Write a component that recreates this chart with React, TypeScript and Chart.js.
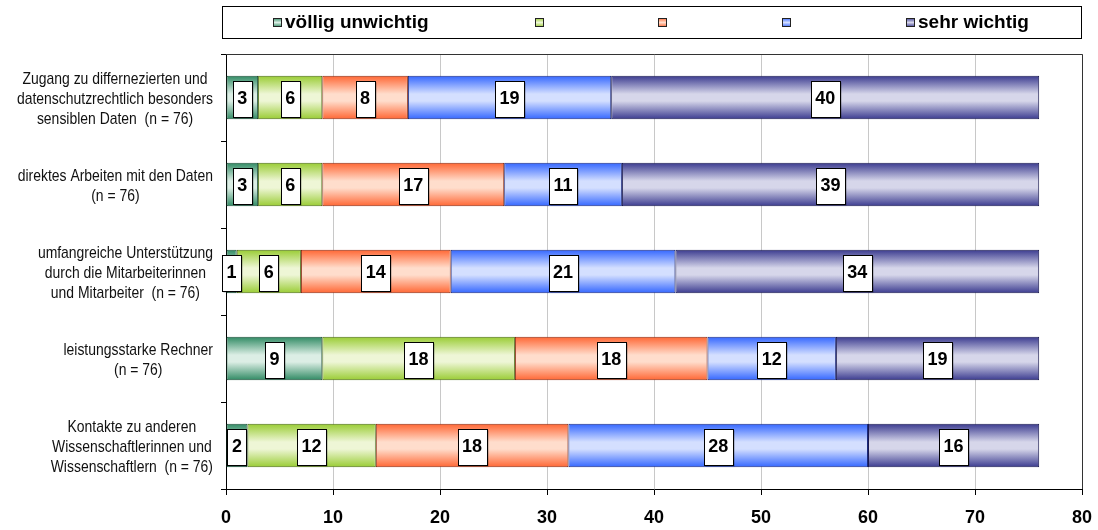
import { useEffect, useRef } from "react";
import { Chart, registerables } from "chart.js";

Chart.register(...registerables);

const categories: string[][] = [
  ["Zugang zu differnezierten und", "datenschutzrechtlich besonders", "sensiblen Daten  (n = 76)"],
  ["direktes Arbeiten mit den Daten", "(n = 76)"],
  ["umfangreiche Unterstützung", "durch die Mitarbeiterinnen", "und Mitarbeiter  (n = 76)"],
  ["leistungsstarke Rechner", "(n = 76)"],
  ["Kontakte zu anderen", "Wissenschaftlerinnen und", "Wissenschaftlern  (n = 76)"],
];

const seriesNames = ["völlig unwichtig", "", "", "", "sehr wichtig"];

const seriesVoelligUnwichtig = [3, 3, 1, 9, 2];
const seriesStufe2 = [6, 6, 6, 18, 12];
const seriesStufe3 = [8, 17, 14, 18, 18];
const seriesStufe4 = [19, 11, 21, 12, 28];
const seriesSehrWichtig = [40, 39, 34, 19, 16];

const xMin = 0;
const xMax = 80;
const xStep = 10;

const EDGE = ["#2f8a63", "#99cc33", "#ff6633", "#3366ff", "#3a3a8f"];
const LIGHT = ["#dceee5", "#eef6d6", "#ffddcc", "#d4dfff", "#d6d6ea"];
const BORDER = ["#1d4f39", "#4a6a10", "#8a2a10", "#1a2a80", "#1a1a50"];

const BAR_PCT = 0.5;
const SANS = '"Liberation Sans", Arial, sans-serif';
const NARROW_SCALE = 0.82;

function gradientFor(k: number) {
  return (ctx: any) => {
    const chart = ctx.chart;
    const y = chart.scales && chart.scales.y;
    const area = chart.chartArea;
    if (!y || !area || ctx.dataIndex === undefined) return EDGE[k];
    const c = y.getPixelForValue(ctx.dataIndex);
    const half = ((area.bottom - area.top) / chart.data.labels.length) * BAR_PCT / 2;
    const g = chart.ctx.createLinearGradient(0, c - half, 0, c + half);
    g.addColorStop(0, EDGE[k]);
    g.addColorStop(0.42, LIGHT[k]);
    g.addColorStop(0.58, LIGHT[k]);
    g.addColorStop(1, EDGE[k]);
    return g;
  };
}

const valueLabels = {
  id: "valueLabels",
  afterDatasetsDraw(chart: any) {
    const ctx = chart.ctx;
    ctx.save();
    ctx.font = `bold 18px ${SANS}`;
    ctx.textAlign = "center";
    ctx.textBaseline = "middle";
    chart.data.datasets.forEach((ds: any, di: number) => {
      const meta = chart.getDatasetMeta(di);
      meta.data.forEach((el: any, i: number) => {
        const text = String(ds.data[i]);
        const cx = (el.x + el.base) / 2;
        const cy = el.y + 1;
        const w = Math.round(ctx.measureText(text).width + 9);
        const h = 36;
        const x0 = Math.round(cx - w / 2) + 0.5;
        const y0 = Math.round(cy - h / 2) + 0.5;
        ctx.fillStyle = "rgba(0,0,0,0.35)";
        ctx.fillRect(x0 + 1, y0 + 1, w, h);
        ctx.fillStyle = "#ffffff";
        ctx.fillRect(x0, y0, w, h);
        ctx.strokeStyle = "#000";
        ctx.lineWidth = 1;
        ctx.strokeRect(x0, y0, w, h);
        ctx.fillStyle = "#000";
        ctx.fillText(text, cx, cy + 1);
      });
    });
    ctx.restore();
  },
};

const frameAndLegend = {
  id: "frameAndLegend",
  afterDraw(chart: any) {
    const ctx = chart.ctx;
    const a = chart.chartArea;
    ctx.save();
    // plot frame top + right
    ctx.strokeStyle = "#333";
    ctx.lineWidth = 1;
    ctx.beginPath();
    ctx.moveTo(a.left, Math.round(a.top) + 0.5);
    ctx.lineTo(Math.round(a.right) + 0.5, Math.round(a.top) + 0.5);
    ctx.lineTo(Math.round(a.right) + 0.5, a.bottom);
    ctx.stroke();

    // category labels, lines centered within a right-aligned block (narrow face)
    const yScale = chart.scales.y;
    ctx.font = `17px ${SANS}`;
    ctx.fillStyle = "#111";
    ctx.textAlign = "center";
    ctx.textBaseline = "middle";
    const right = a.left - 13;
    (chart.data.labels as string[][]).forEach((lines, i) => {
      const c = yScale.getPixelForValue(i) + 1.5;
      const bw = Math.max(...lines.map((l) => ctx.measureText(l).width)) * NARROW_SCALE;
      const cx = right - bw / 2;
      lines.forEach((l, j) => {
        ctx.save();
        ctx.translate(cx, c + (j - (lines.length - 1) / 2) * 20);
        ctx.scale(NARROW_SCALE, 1);
        ctx.fillText(l, 0, 0);
        ctx.restore();
      });
    });

    // legend
    ctx.strokeStyle = "#000";
    ctx.strokeRect(222.5, 6.5, 859, 32);
    const boxX = [273, 535, 658, 782, 906];
    ctx.font = `bold 19px ${SANS}`;
    ctx.textAlign = "left";
    ctx.textBaseline = "alphabetic";
    chart.data.datasets.forEach((ds: any, k: number) => {
      const bx = boxX[k];
      const g = ctx.createLinearGradient(0, 18, 0, 27);
      g.addColorStop(0, EDGE[k]);
      g.addColorStop(0.5, LIGHT[k]);
      g.addColorStop(1, EDGE[k]);
      ctx.fillStyle = g;
      ctx.fillRect(bx + 0.5, 18.5, 8, 8);
      ctx.strokeStyle = "#222";
      ctx.strokeRect(bx + 0.5, 18.5, 8, 8);
      if (ds.label) {
        ctx.fillStyle = "#000";
        ctx.fillText(ds.label, bx + 12, 28);
      }
    });
    ctx.restore();
  },
};

export default function App() {
  const ref = useRef<HTMLCanvasElement | null>(null);

  useEffect(() => {
    if (!ref.current) return;
    const all = [seriesVoelligUnwichtig, seriesStufe2, seriesStufe3, seriesStufe4, seriesSehrWichtig];
    const chart = new Chart(ref.current, {
      type: "bar",
      data: {
        labels: categories as any,
        datasets: all.map((d, k) => ({
          label: seriesNames[k],
          data: d,
          backgroundColor: gradientFor(k) as any,
          borderColor: BORDER[k],
          borderWidth: 1,
          borderSkipped: false,
          categoryPercentage: 1,
          barPercentage: BAR_PCT,
        })),
      },
      options: {
        indexAxis: "y",
        animation: false,
        responsive: true,
        maintainAspectRatio: false,
        layout: { padding: { top: 54, right: 16, left: 0, bottom: 0 } },
        plugins: {
          legend: { display: false },
          tooltip: { enabled: false },
        },
        scales: {
          x: {
            stacked: true,
            min: xMin,
            max: xMax,
            ticks: {
              stepSize: xStep,
              color: "#000",
              padding: 12,
              font: { family: SANS, size: 18, weight: "bold" },
            },
            grid: { color: "#c8c8c8", tickColor: "#000", tickLength: 6, lineWidth: 1 },
            border: { color: "#000", width: 1 },
            afterFit: (s: any) => {
              s.height = 41;
              s.paddingRight = 0;
              s.paddingLeft = 0;
            },
          },
          y: {
            stacked: true,
            ticks: { display: false },
            grid: { drawOnChartArea: false, drawTicks: true, tickLength: 5, color: "#000", offset: true },
            border: { color: "#000", width: 1 },
            afterFit: (s: any) => {
              s.width = 226;
            },
          },
        },
      },
      plugins: [valueLabels, frameAndLegend],
    });
    return () => chart.destroy();
  }, []);

  return (
    <div style={{ position: "fixed", left: 0, top: 0, width: 1098, height: 530, background: "#fff" }}>
      <canvas ref={ref} />
    </div>
  );
}
